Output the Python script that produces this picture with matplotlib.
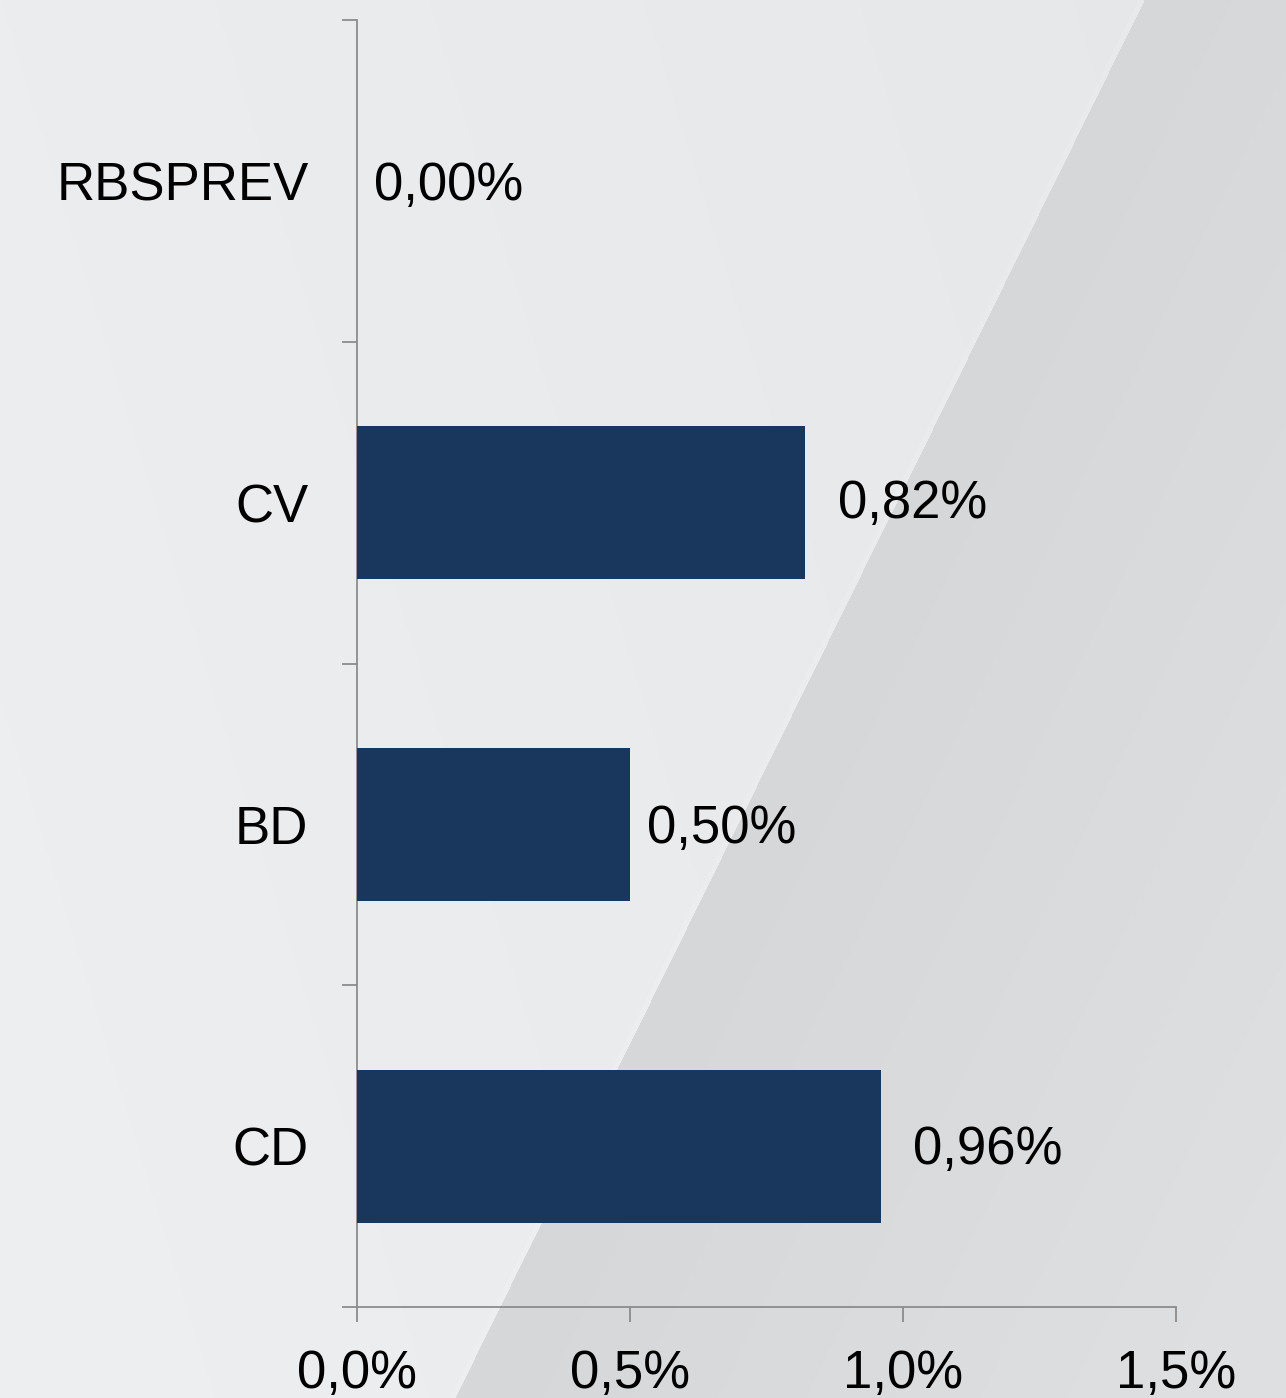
import matplotlib
matplotlib.use("Agg")
import matplotlib.pyplot as plt
import numpy as np
from matplotlib.ticker import FuncFormatter, FixedLocator

plt.rcParams['font.family'] = ['Liberation Sans', 'DejaVu Sans']

# data (percent)
categories = ["RBSPREV", "CV", "BD", "CD"]
values = [0.00, 0.82, 0.50, 0.96]
value_labels = ["0,00%", "0,82%", "0,50%", "0,96%"]
x_ticks = [0.0, 0.5, 1.0, 1.5]

# small nudges (points) of the value labels, as in the original
label_dx = [12, 24, 12, 23]
label_dy = [-4, -1, -3, -3]

W, H, DPI = 1286, 1398, 100
fig = plt.figure(figsize=(W / DPI, H / DPI), dpi=DPI)

# background: light grey with a darker diagonal wedge on the right
yy, xx = np.mgrid[0:H, 0:W].astype(float)
edge = 1144 - 0.493 * yy          # x of the diagonal edge at each row
d = xx - edge
left = 238 - 6 * (xx / W) - 2 * (1 - yy / H)
right = 214 + 8 * np.clip(d / 700, 0, 1)
shade = np.where(d < 0, left, right)
shade = np.where((d > -6) & (d < 0), shade + 2, shade)
bg = np.dstack([shade, shade + 1, shade + 3]) / 255.0
bg = np.clip(bg, 0, 1)
bgax = fig.add_axes([0, 0, 1, 1], zorder=-10)
bgax.imshow(bg, aspect='auto', interpolation='bilinear')
bgax.axis('off')

ax = fig.add_axes([357 / W, 1 - 1307 / H, (1176 - 357) / W, (1307 - 20) / H])
ax.patch.set_alpha(0)

ypos = np.arange(len(categories))
ax.barh(ypos, values, height=0.475, color='#19375d', linewidth=0, zorder=3)

ax.set_xlim(0, 1.5)
ax.set_ylim(len(categories) - 0.5, -0.5)

for i, (v, lab) in enumerate(zip(values, value_labels)):
    ax.annotate(lab, xy=(v, i), xytext=(label_dx[i], label_dy[i]), textcoords='offset points',
                ha='left', va='center', fontsize=38, color='black')

ax.set_yticks(ypos)
ax.set_yticklabels(categories)
ax.yaxis.set_minor_locator(FixedLocator(np.arange(-0.5, len(categories), 1.0)))
ax.tick_params(axis='y', which='major', length=0, pad=35, labelsize=38)
ax.tick_params(axis='y', which='minor', length=11, width=1.3, color='#8c8c8c')

ax.xaxis.set_major_locator(FixedLocator(x_ticks))
ax.xaxis.set_major_formatter(FuncFormatter(lambda x, p: f"{x:.1f}%".replace('.', ',')))
ax.tick_params(axis='x', which='major', length=11, width=1.3, color='#8c8c8c', pad=19, labelsize=38)

for s in ['top', 'right']:
    ax.spines[s].set_visible(False)
for s in ['left', 'bottom']:
    ax.spines[s].set_color('#8c8c8c')
    ax.spines[s].set_linewidth(1.3)

fig.savefig("out.png", dpi=DPI)
